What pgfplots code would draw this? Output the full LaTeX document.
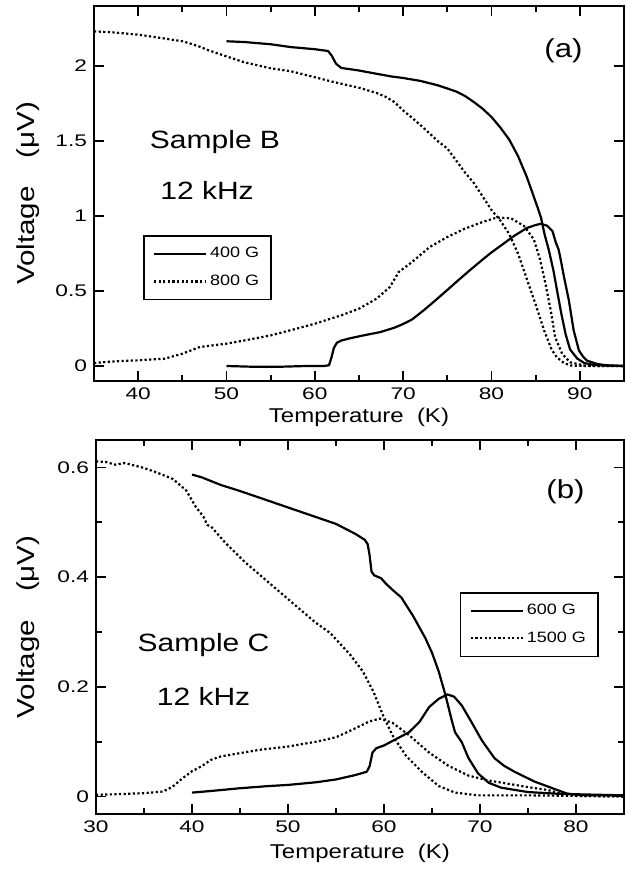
\documentclass[border=0pt]{standalone}
\usepackage{fontspec}
\setmainfont{Liberation Sans}[FakeStretch=1.2]
\newfontfamily\tickfont{Liberation Sans}[FakeStretch=1.35]
\usepackage{pgfplots}
\pgfplotsset{compat=1.18}

\pgfplotsset{
  panel/.style={
    scale only axis,
    axis line style={line width=1.1pt},
    every tick/.style={black, line width=0.9pt},
    tick align=inside,
    major tick length=4.8pt, minor tick length=2.8pt,
    minor x tick num=1,
    /pgf/number format/assume math mode=true,
    tick label style={font=\tickfont\fontsize{8.4}{10}\selectfont},
    xlabel style={font=\fontsize{10}{12}\selectfont},
    ylabel style={font=\fontsize{12.3}{14}\selectfont},
    legend cell align=left,
    legend image code/.code={\draw[##1] (0pt,0pt) -- (26pt,0pt);},
    legend style={draw=black, line width=0.8pt, font=\fontsize{7.5}{9}\selectfont,
      anchor=north west, inner xsep=4.5pt, inner ysep=4.2pt, row sep=4pt,
      nodes={inner sep=1.5pt}},
  },
  sol/.style={black, line width=1.1pt, line join=round},
  dot/.style={black, line width=1.1pt, dash pattern=on 1.1pt off 1.2pt},
}

\begin{document}
\begin{tikzpicture}
\useasboundingbox (0,0) rectangle (313pt,-434.5pt);

% panel (a)
\begin{axis}[panel,
  at={(47pt,-190.5pt)}, anchor=south west,
  width=265pt, height=187.5pt,
  xmin=35, xmax=95, ymin=-0.1, ymax=2.4,
  xtick={40,50,...,90}, ytick={0,0.5,...,2},
  xlabel={Temperature\ \ (K)}, ylabel={Voltage\hspace{14pt}(μV)},
  xlabel style={at={(axis description cs:0.5,-0.096)}, anchor=center},
  ylabel style={at={(axis description cs:-0.125,0.5)}, anchor=center},
  legend style={at={(axis cs:40.55,0.873)}},
]
\addplot[sol] coordinates {
 (50,2.165) (52,2.16) (55,2.145) (57.3,2.126) (60,2.112) (61.5,2.10) (61.9,2.07)
 (62.4,2.015) (63,1.987) (64.9,1.971) (67,1.948) (68.7,1.93) (70,1.92) (72,1.9)
 (74,1.87) (75,1.85) (76,1.83) (77,1.80) (78,1.76) (79,1.715) (80,1.66) (81,1.59)
 (82,1.51) (83,1.40) (84,1.26) (84.6,1.16) (85.2,1.06) (85.6,0.99) (86,0.88)
 (86.5,0.77) (87,0.64) (87.4,0.51) (87.9,0.35) (88.4,0.21) (88.9,0.11) (89.7,0.05)
 (90.5,0.02) (91.5,0.008) (93,0.003) (95,0.0)
};
\addlegendentry{400 G}
\addplot[sol, forget plot] coordinates {
 (50,0.0) (53,-0.005) (56,-0.005) (59,0.0) (61,0.0) (61.6,0.005) (61.9,0.06)
 (62.15,0.12) (62.5,0.155) (63,0.17) (64,0.185) (65.5,0.204) (67.4,0.226)
 (69,0.255) (70.1,0.283) (71,0.31) (72.3,0.37) (73.5,0.43) (75,0.507) (76.3,0.575)
 (77.6,0.641) (79,0.71) (79.9,0.753) (81,0.80) (82.5,0.865) (84,0.92) (85,0.94)
 (85.6,0.948) (86.3,0.935) (86.9,0.90) (87.3,0.82) (87.6,0.776) (87.9,0.69)
 (88.2,0.596) (88.75,0.44) (89.3,0.238) (89.9,0.103) (90.4,0.06) (90.8,0.036)
 (92,0.013) (93,0.005) (95,0.0)
};
\addplot[dot] coordinates {
 (35,2.231) (37,2.225) (40,2.209) (42,2.192) (45,2.165) (46,2.148) (47,2.128)
 (48,2.104) (49.7,2.07) (52,2.025) (55,1.985) (57.3,1.965) (60,1.925) (62,1.895)
 (65,1.855) (67,1.82) (68,1.795) (69,1.76) (70,1.704) (71,1.655) (72,1.604)
 (73,1.55) (74,1.495) (75,1.45) (76,1.37) (77,1.29) (78,1.22) (79,1.13) (80,1.04)
 (81,0.97) (82,0.88) (83,0.75) (84,0.58) (85,0.41) (86,0.23) (86.8,0.11)
 (87.4,0.058) (88.2,0.02) (89,0.003) (91,0.0) (95,0.0)
};
\addlegendentry{800 G}
\addplot[dot, forget plot] coordinates {
 (35,0.02) (37,0.03) (40,0.038) (43,0.049) (45,0.082) (47,0.127) (50,0.149)
 (52,0.17) (55,0.204) (58,0.25) (60,0.282) (63,0.338) (65,0.382) (67,0.449)
 (68.5,0.527) (69.5,0.627) (71,0.693) (73,0.793) (75,0.86) (77,0.916) (79,0.96)
 (80.6,0.99) (82.2,0.985) (83.7,0.933) (84.8,0.843) (85.5,0.709) (86.1,0.552)
 (86.7,0.372) (87.2,0.193) (88,0.081) (88.9,0.025) (90.5,0.003) (92,0.0) (95,0.0)
};
\node[font=\fontsize{13}{15}\selectfont] at (axis cs:88.15,2.10) {(a)};
\node[font=\fontsize{12.5}{15}\selectfont] at (axis cs:48.7,1.49) {Sample B};
\node[font=\fontsize{12.5}{15}\selectfont] at (axis cs:47.8,1.17) {12 kHz};
\end{axis}

% panel (b)
\begin{axis}[panel,
  at={(48pt,-220pt)}, anchor=north west,
  width=264pt, height=187pt,
  xmin=30, xmax=85, ymin=-0.032, ymax=0.65,
  xtick={30,40,...,80}, ytick={0,0.2,0.4,0.6},
  minor y tick num=1,
  xlabel={Temperature\ \ (K)}, ylabel={Voltage\hspace{14pt}(μV)},
  xlabel style={at={(axis description cs:0.5,-0.104)}, anchor=center},
  ylabel style={at={(axis description cs:-0.129,0.5)}, anchor=center},
  legend style={at={(axis cs:67.9,0.373)}},
]
\addplot[sol] coordinates {
 (40,0.587) (41,0.582) (43,0.568) (45,0.557) (47,0.545) (50,0.527) (52,0.515)
 (55,0.497) (57,0.479) (58,0.468) (58.3,0.46) (58.5,0.44) (58.7,0.41) (59,0.403)
 (59.7,0.398) (60.2,0.388) (61,0.375) (61.8,0.363) (63,0.33) (64.3,0.289)
 (65,0.262) (65.7,0.228) (66.4,0.185) (67.1,0.136) (67.4,0.117) (68.1,0.099)
 (68.8,0.07) (69.8,0.042) (70.9,0.025) (72.2,0.016) (75,0.008) (78,0.005)
 (80,0.004) (85,0.002)
};
\addlegendentry{600 G}
\addplot[sol, forget plot] coordinates {
 (40,0.007) (42,0.01) (45,0.015) (48,0.019) (50,0.021) (53,0.026) (55,0.031)
 (57,0.039) (58.2,0.045) (58.5,0.055) (58.8,0.08) (59.2,0.088) (60,0.093)
 (61.3,0.105) (62.6,0.117) (63.7,0.136) (64.7,0.163) (65.7,0.178) (66.6,0.186)
 (67.3,0.182) (68.1,0.166) (69.1,0.136) (70.2,0.102) (71.5,0.07) (72.5,0.056)
 (73.6,0.045) (75.7,0.027) (77.7,0.014) (79.1,0.005) (81,0.002) (85,0.002)
};
\addplot[dot] coordinates {
 (30,0.611) (31,0.610) (32,0.605) (33,0.608) (35,0.599) (36.3,0.591) (38,0.579)
 (39.4,0.558) (40.4,0.528) (41.2,0.51) (41.6,0.495) (42,0.492) (43.5,0.462)
 (45.6,0.426) (48,0.39) (50.4,0.354) (52.8,0.318) (54.4,0.298) (56.5,0.258)
 (57.8,0.228) (58.9,0.191) (59.9,0.148) (60.9,0.111) (62.3,0.074) (64,0.044)
 (65.7,0.019) (67.4,0.007) (69.8,0.002) (75,0.002) (80,0.001) (85,0.0)
};
\addlegendentry{1500 G}
\addplot[dot, forget plot] coordinates {
 (30,0.003) (32,0.004) (35,0.006) (37,0.009) (38,0.018) (39,0.033) (40,0.046)
 (41,0.055) (42,0.067) (43,0.073) (45,0.079) (47,0.085) (50,0.091) (53,0.1)
 (55,0.108) (56.5,0.12) (58.5,0.137) (59.6,0.142) (60.9,0.134) (62.6,0.112)
 (64.7,0.08) (66.7,0.056) (68.8,0.038) (70.9,0.029) (73,0.023) (75,0.017)
 (77,0.012) (78.4,0.005) (80.4,0.001) (85,0.0)
};
\node[font=\fontsize{13}{15}\selectfont] at (axis cs:78.9,0.556) {(b)};
\node[font=\fontsize{12.5}{15}\selectfont] at (axis cs:41.2,0.277) {Sample C};
\node[font=\fontsize{12.5}{15}\selectfont] at (axis cs:41.2,0.182) {12 kHz};
\end{axis}
\end{tikzpicture}
\end{document}
